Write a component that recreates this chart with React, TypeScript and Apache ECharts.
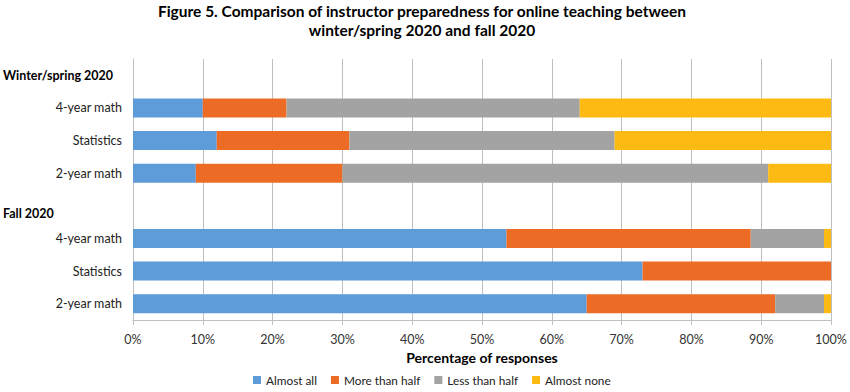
import React, { useEffect, useRef } from "react";
import * as echarts from "echarts";

const categories = [
  "Winter/spring 2020",
  "4-year math",
  "Statistics",
  "2-year math",
  "Fall 2020",
  "4-year math",
  "Statistics",
  "2-year math",
];
const headerRows = [0, 4];
const seriesNames = ["Almost all", "More than half", "Less than half", "Almost none"];
const almostAll = [null, 10, 12, 9, null, 53.5, 73, 65];
const moreThanHalf = [null, 12, 19, 21, null, 35, 27, 27];
const lessThanHalf = [null, 42, 38, 61, null, 10.5, 0, 7];
const almostNone = [null, 36, 31, 9, null, 1, 0, 1];
const colors = ["#5E9BD9", "#EC6C26", "#A3A3A3", "#FDBA12"];
const titleLines = [
  "Figure 5. Comparison of instructor preparedness for online teaching between",
  "winter/spring 2020 and fall 2020",
];

const FONT = "Lato, 'Open Sans', sans-serif";

export default function App() {
  const ref = useRef<HTMLDivElement>(null);
  useEffect(() => {
    document.body.style.margin = "0";
    if (!ref.current) return;
    const chart = echarts.init(ref.current, null, { renderer: "svg" });
    const values = [almostAll, moreThanHalf, lessThanHalf, almostNone];
    chart.setOption({
      animation: false,
      textStyle: { fontFamily: FONT },
      title: {
        text: titleLines.join("\n"),
        left: 422,
        textAlign: "center",
        top: 1,
        padding: 0,
        textStyle: {
          fontFamily: FONT,
          fontWeight: "bold",
          fontSize: 15.5,
          lineHeight: 19,
          color: "#000",
        },
      },
      legend: {
        top: 374,
        left: 253,
        padding: 0,
        itemWidth: 8,
        itemHeight: 8,
        itemGap: 14,
        icon: "rect",
        textStyle: { fontFamily: FONT, fontSize: 11.8, color: "#222" },
        data: seriesNames,
      },
      grid: { left: 132, right: 19, top: 59, bottom: 72, containLabel: false },
      xAxis: {
        type: "value",
        min: 0,
        max: 100,
        interval: 10,
        name: "Percentage of responses",
        nameLocation: "middle",
        nameGap: 29,
        nameTextStyle: { fontFamily: FONT, fontWeight: "bold", fontSize: 14, color: "#000" },
        axisLabel: { formatter: "{value}%", fontSize: 12.5, color: "#333", margin: 13 },
        axisLine: { show: true, lineStyle: { color: "#BFBFBF" } },
        axisTick: { show: true, length: 5, lineStyle: { color: "#BFBFBF" } },
        splitLine: { show: true, lineStyle: { color: "#BFBFBF", width: 1 } },
      },
      yAxis: {
        type: "category",
        inverse: true,
        data: categories,
        axisLine: { show: true, lineStyle: { color: "#BFBFBF" } },
        axisTick: { show: false },
        axisLabel: {
          margin: 11,
          fontSize: 12.5,
          color: "#222",
          formatter: (val: string, idx: number) => {
            if (idx === headerRows[0]) return `{h|${val}}`;
            if (headerRows.includes(idx)) return `{f|${val}}`;
            return val;
          },
          rich: {
            h: { fontWeight: "bold", width: 119, align: "left", fontSize: 12.5, color: "#000" },
            f: {
              fontWeight: "bold",
              width: 119,
              align: "left",
              fontSize: 12.5,
              color: "#000",
              padding: [16, 0, 0, 0],
            },
          },
        },
      },
      series: seriesNames.map((name, i) => ({
        name,
        type: "bar",
        stack: "total",
        barWidth: 19,
        itemStyle: { color: colors[i] },
        data: values[i],
      })),
    });
    return () => chart.dispose();
  }, []);
  return <div ref={ref} style={{ width: 850, height: 392 }} />;
}
